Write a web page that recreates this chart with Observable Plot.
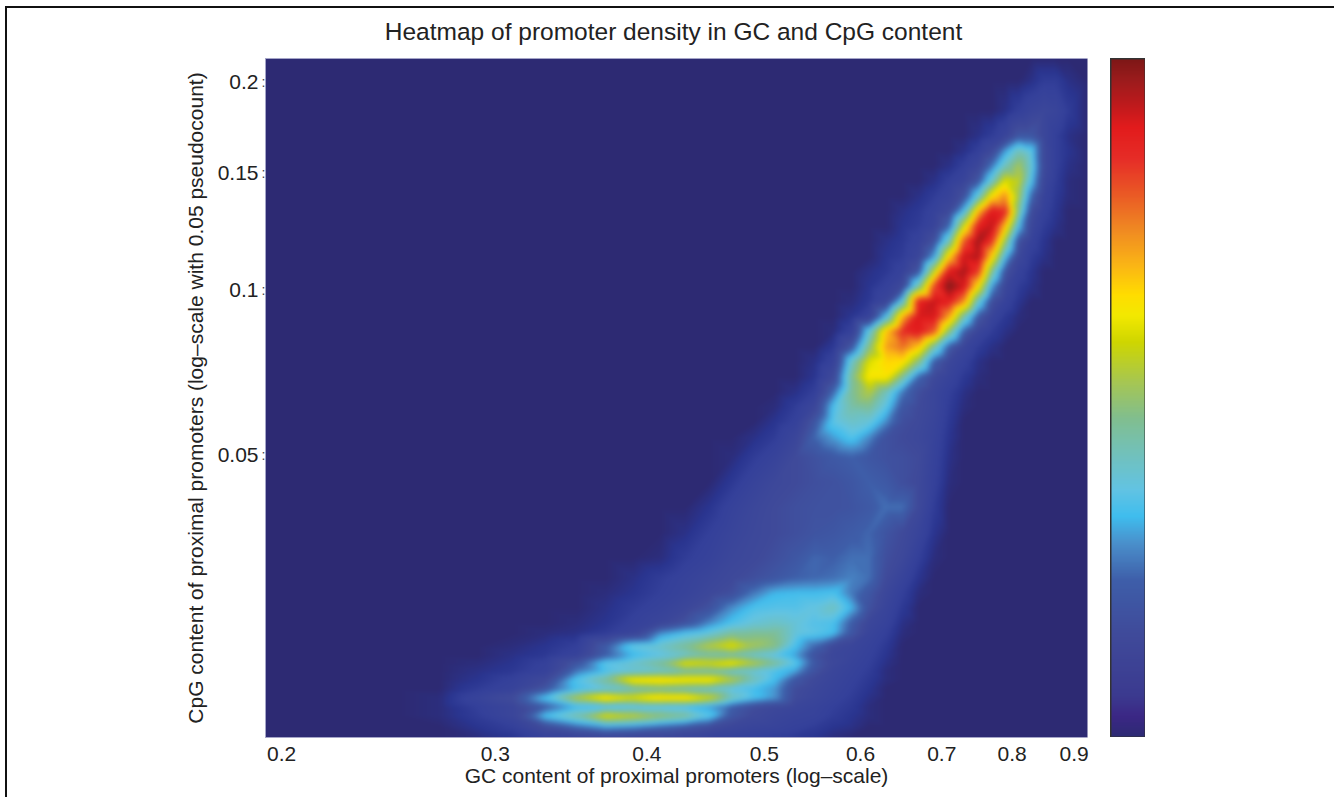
<!DOCTYPE html>
<html><head><meta charset="utf-8">
<style>
html,body{margin:0;padding:0;background:#fff;width:1334px;height:797px;overflow:hidden}
#page{position:relative;width:1334px;height:797px}
#edge{position:absolute;left:5px;top:6px;right:0;bottom:0;border-left:2px solid #111;border-top:2px solid #111}
#chart,#bar{position:absolute}
#chart{left:0;top:0}
#bar{left:1110px;top:58px}
</style>
<script src="https://cdn.jsdelivr.net/npm/d3@7"></script>
<script src="https://cdn.jsdelivr.net/npm/@observablehq/plot@0.6"></script>
</head><body>
<div id="page"><div id="edge"></div><div id="chart"></div><div id="bar"></div></div>
<script>
const titleText = "Heatmap of promoter density in GC and CpG content";
const xLabel = "GC content of proximal promoters (log\u2013scale)";
const yLabel = "CpG content of proximal promoters (log\u2013scale with 0.05 pseudocount)";
const xTicks = [0.2,0.3,0.4,0.5,0.6,0.7,0.8,0.9];
const yTicks = [0.05,0.1,0.15,0.2];
const pseudocount = 0.05;

const colorStops = [0,3,6,15,23,28.5,32.5,36.5,41.8,47,52.3,58.3,62.2,65.2,69.5,74.8,80,85.3,90,93.3,97.2,100];
const colorRange = ["#2d2a73","#2a3590","#34409a","#3f4a9a","#3e5ea9","#4a8fcb","#3fbdee","#62c3e3","#72c1bb","#81be8f","#a6c653","#cfd600","#f3e900","#ffdd00","#fbb615","#f08a22","#ea5a25","#e62d27","#e21b1c","#be1a1c","#991b1c","#7e1716"];
const barRange = ["#2d2a73","#3b2785","#3b3a8f","#3f4a9a","#3e5ea9","#4a8fcb","#3fbdee","#62c3e3","#72c1bb","#81be8f","#a6c653","#cfd600","#f3e900","#ffdd00","#fbb615","#f08a22","#ea5a25","#e62d27","#e21b1c","#be1a1c","#991b1c","#7e1716"];

const gcLevels = [0.194,0.25,0.27,0.29,0.31,0.33,0.35,0.37,0.39,0.41,0.43,0.45,0.47,0.49,0.51,0.53,0.55,0.57,0.59,0.61,0.63,0.65,0.67,0.69,0.71,0.73,0.75,0.77,0.79,0.81,0.83,0.85,0.87,0.89,0.923];
const cpgLevels = [0.2153,0.2013,0.1834,0.1694,0.1614,0.1537,0.1463,0.1392,0.1323,0.1257,0.1193,0.1131,0.1072,0.1015,0.096,0.0907,0.0856,0.0806,0.0759,0.0713,0.0669,0.0627,0.0586,0.0546,0.0495,0.0436,0.038,0.0327,0.0278,0.024,0.0213,0.0188,0.0163,0.0146,0.0126,0.0112,0.01,0.0088,0.0076,0.0063,0.0051,0.0039,0.0027,0.0013,0];
const rowFirstColumn = [0,30,28,26,25,24,23,22,21,21,20,20,19,19,18,18,17,17,16,16,15,14,14,13,12,12,11,10,9,8,7,7,6,5,4,4,3,3,3,2,2,2,2,3,3];
const rowDensity = [
[0],
[2,5,5,2],
[2,6,10,12,10,5],
[2,5,10,20,20,12,6,2],
[2,6,14,30,42,36,14,6,3],
[2,6,12,26,42,52,38,14,6,2],
[2,6,10,20,40,60,56,34,12,5,1],
[2,5,9,18,38,64,74,52,24,9,4,1],
[2,4,8,14,34,68,90,86,46,16,7,3],
[3,5,10,24,58,88,93,68,34,12,5,2],
[2,4,8,18,42,80,97,84,50,18,8,3],
[3,5,11,30,66,92,95,66,34,13,5,2],
[2,4,8,20,56,90,96,84,46,19,8,3],
[3,7,14,44,82,100,91,64,30,12,5,2],
[1,4,11,38,88,93,89,74,40,17,8,3],
[3,8,34,70,91,91,72,44,21,10,4,1],
[1,7,38,68,86,90,80,48,23,11,5,2],
[4,20,48,72,78,68,44,22,11,5,2],
[2,8,40,60,66,65,48,22,12,7,2],
[3,14,46,64,64,46,24,14,9,4,1],
[2,6,24,46,54,42,26,17,11,6,2],
[1,5,12,34,44,46,36,20,15,11,5,1],
[3,7,20,36,40,38,28,17,14,10,4],
[2,5,11,24,30,35,28,18,15,13,9,3],
[1,5,9,15,18,21,23,20,18,17,15,8,2],
[4,9,13,15,17,18,20,23,21,17,14,7,1],
[3,8,12,15,17,18,18,19,21,25,25,14,5],
[2,6,10,13,15,17,19,20,22,24,19,15,10,3],
[1,5,8,12,14,17,20,24,23,25,25,17,13,6,1],
[2,5,8,11,14,17,20,23,24,25,27,25,15,9,3],
[1,3,6,9,13,17,26,32,33,33,34,26,20,12,6,1],
[2,5,8,12,18,28,34,35,35,37,41,32,18,10,4],
[1,3,7,11,18,27,34,38,40,38,35,34,22,12,8,2],
[1,2,5,10,28,34,38,45,46,46,38,36,33,20,10,6,1],
[1,3,6,22,37,40,46,54,60,52,48,34,24,14,11,8,4],
[2,4,8,22,32,36,40,44,44,40,36,30,18,12,10,7,3],
[1,3,7,20,36,40,46,60,58,62,54,46,36,21,13,9,6,2],
[2,4,8,26,34,38,40,44,44,40,38,34,30,18,11,8,5,1],
[3,7,14,35,46,64,66,64,64,54,42,33,20,14,10,7,4,1],
[0,5,9,20,33,38,42,44,42,40,36,33,29,16,12,9,6,3],
[1,9,16,34,54,66,60,66,66,58,42,34,29,15,11,8,5,2],
[1,6,11,22,32,34,35,35,34,30,22,16,13,11,9,6,4,1],
[1,5,11,34,44,60,56,50,46,36,20,14,11,9,8,5,3,1],
[3,6,16,24,30,28,24,20,16,12,10,9,7,5,3,2],
[1,3,8,9,11,10,10,9,8,7,6,5,4,3,1]
];

const cells = [];
cpgLevels.forEach((cpg, r) => {
  gcLevels.forEach((gc, c) => {
    const v = rowDensity[r][c - rowFirstColumn[r]];
    cells.push({gc, cpg, density: v === undefined ? 0 : v});
  });
});

const fontStyle = {fontFamily:"'Liberation Sans',Arial,sans-serif", fontSize:"21px", color:"#222", background:"transparent"};
const edgeStroke = "#a5a5c8";

const chart = Plot.plot({
  width:1334, height:797,
  marginLeft:265, marginRight:247, marginTop:58, marginBottom:60,
  style:fontStyle,
  color:{type:"linear", domain:colorStops, range:colorRange, interpolate:"rgb", clamp:true},
  x:{type:"log", domain:[0.194,0.923], ticks:xTicks, tickFormat:d=>String(d), tickSize:0, tickPadding:9, label:xLabel, labelAnchor:"center", labelArrow:"none", labelOffset:45},
  y:{type:"log", domain:[pseudocount,0.2653], ticks:yTicks.map(d=>d+pseudocount), tickFormat:d=>String(+(d-pseudocount).toFixed(2)), tickSize:0, tickPadding:7, label:yLabel, labelAnchor:"center", labelArrow:"none", labelOffset:77},
  marks:[
    Plot.raster(cells,{x:"gc", y:d=>d.cpg+pseudocount, fill:"density", interpolate:"barycentric", blur:2}),
    Plot.ruleY([pseudocount,0.2653],{stroke:edgeStroke}),
    Plot.ruleX([0.194],{stroke:edgeStroke}),
    Plot.text(yTicks,{y:d=>d+pseudocount, text:()=>":", frameAnchor:"left", textAnchor:"end", dx:0, fontSize:14, fill:"#444"}),
    Plot.text([titleText],{frameAnchor:"top", dy:-36, dx:-3, fontSize:24.5, fill:"#222"})
  ]
});
document.getElementById("chart").append(chart);

const barLevels = d3.range(100,-0.01,-0.25);
const bar = Plot.plot({
  width:35, height:679, margin:0,
  style:{background:"transparent"},
  color:{type:"linear", domain:colorStops, range:barRange, interpolate:"rgb", clamp:true},
  x:{domain:[0,1], axis:null},
  y:{domain:[0,100], axis:null},
  marks:[
    Plot.raster(barLevels,{width:1, height:barLevels.length, x1:0, x2:1, y1:100, y2:0, fill:d=>d}),
    Plot.frame({stroke:"#333", strokeWidth:2})
  ]
});
document.getElementById("bar").append(bar);
</script>
</body></html>
